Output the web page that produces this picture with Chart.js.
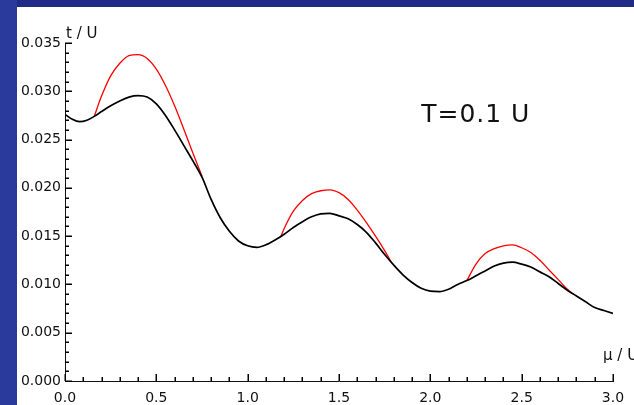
<!DOCTYPE html>
<html>
<head>
<meta charset="utf-8">
<script src="https://cdn.jsdelivr.net/npm/chart.js@4.4.1/dist/chart.umd.min.js"></script>
<style>
  html, body { margin: 0; padding: 0; }
  body { width: 634px; height: 405px; position: relative; overflow: hidden; background: #ffffff; }
  #plot { position: absolute; left: 0; top: 0; }
  .band { position: absolute; }
  #bandLeft { left: 0; top: 0; width: 17px; height: 405px; background: #2a3a9c; }
  #bandTop { left: 0; top: 0; width: 634px; height: 7px; background: #212c86; }
</style>
</head>
<body>
<canvas id="plot" width="634" height="405"></canvas>
<div class="band" id="bandTop"></div>
<div class="band" id="bandLeft"></div>
<script>
// chemical potential mu/U and hopping t/U
const muBlack = [0, 0.04, 0.08, 0.12, 0.16, 0.2, 0.25, 0.3, 0.35, 0.4, 0.45, 0.5, 0.55, 0.6, 0.65, 0.7,
  0.75, 0.8, 0.85, 0.9, 0.95, 1.0, 1.05, 1.1, 1.15, 1.2, 1.25, 1.3, 1.35, 1.4, 1.45, 1.5, 1.55, 1.6,
  1.65, 1.7, 1.75, 1.8, 1.85, 1.9, 1.95, 2.0, 2.05, 2.1, 2.15, 2.2, 2.25, 2.3, 2.35, 2.4, 2.45, 2.5,
  2.55, 2.6, 2.65, 2.7, 2.75, 2.8, 2.85, 2.9, 2.95, 3.0];
const tBlack = [0.0276, 0.0271, 0.02685, 0.0270, 0.0274, 0.0279, 0.0285, 0.0290, 0.0294, 0.02955, 0.0294,
  0.0287, 0.0275, 0.0260, 0.0244, 0.0228, 0.0211, 0.0188, 0.0169, 0.0155, 0.0145, 0.0140, 0.01384,
  0.0141, 0.0146, 0.0152, 0.0159, 0.0165, 0.0170, 0.0173, 0.01736, 0.0171, 0.0168, 0.0162, 0.0154,
  0.0143, 0.0131, 0.0120, 0.0110, 0.0102, 0.0096, 0.0093, 0.00925, 0.0095, 0.0100, 0.0104, 0.0109,
  0.0114, 0.0119, 0.0122, 0.0123, 0.0121, 0.0118, 0.0113, 0.0108, 0.0101, 0.0094, 0.0088, 0.0082,
  0.0076, 0.0073, 0.0070];

// red curve, three bumps
const muRedA = [0.16, 0.2, 0.25, 0.3, 0.35, 0.4, 0.45, 0.5, 0.55, 0.6, 0.65, 0.7, 0.75];
const tRedA = [0.0274, 0.0295, 0.0316, 0.0329, 0.0337, 0.0338, 0.0334, 0.0323, 0.0306, 0.0285, 0.0261, 0.0236, 0.0212];
const muRedB = [1.18, 1.2, 1.25, 1.3, 1.35, 1.4, 1.45, 1.5, 1.55, 1.6, 1.65, 1.7, 1.75, 1.79];
const tRedB = [0.0149, 0.0158, 0.0176, 0.0187, 0.0194, 0.0197, 0.0198, 0.0195, 0.0188, 0.0177, 0.0164, 0.0150, 0.0135, 0.0122];
const muRedC = [2.2, 2.25, 2.3, 2.35, 2.4, 2.45, 2.5, 2.55, 2.6, 2.65, 2.7, 2.75, 2.79];
const tRedC = [0.0104, 0.0121, 0.0132, 0.0137, 0.0140, 0.0141, 0.0138, 0.0133, 0.0125, 0.0115, 0.0105, 0.0095, 0.0089];

const xTicks = [0, 0.5, 1.0, 1.5, 2.0, 2.5, 3.0];
const yTicks = [0, 0.005, 0.010, 0.015, 0.020, 0.025, 0.030, 0.035];
const xMinorStep = 0.1;
const yMinorStep = 0.001;

const toPoints = (xs, ys) => xs.map((x, i) => ({ x: x, y: ys[i] }));

const lineSet = (pts, color, width) => ({
    data: pts,
    borderColor: color,
    borderWidth: width,
    pointRadius: 0,
    showLine: true,
    fill: false,
    cubicInterpolationMode: 'monotone'
});

const tickFont = { family: 'DejaVu Sans', size: 14 };

// inward major/minor ticks plus the axis names and annotation
const decorations = {
    id: 'decorations',
    afterDraw(chart) {
        const c = chart.ctx;
        const xs = chart.scales.x;
        const ys = chart.scales.y;
        const area = chart.chartArea;
        const bottom = Math.round(area.bottom);
        const left = Math.round(area.left);
        c.save();
        c.fillStyle = '#000';
        const nx = Math.round((xs.max - xs.min) / xMinorStep);
        for (let i = 0; i <= nx; i++) {
            const px = Math.round(xs.getPixelForValue(xs.min + i * xMinorStep));
            const len = i % 5 === 0 ? 7 : 4;
            c.fillRect(px - 0.5, bottom - len, 1.5, len);
        }
        const ny = Math.round((ys.max - ys.min) / yMinorStep);
        for (let i = 0; i <= ny; i++) {
            const py = Math.round(ys.getPixelForValue(ys.min + i * yMinorStep));
            const len = i % 5 === 0 ? 7 : 4;
            c.fillRect(left, py - 0.5, len, 1.5);
        }

        c.fillStyle = '#111';
        c.font = '15px "DejaVu Sans"';
        c.textBaseline = 'alphabetic';
        c.textAlign = 'left';
        c.fillText('t / U', area.left + 1, area.top - 5);
        c.fillText('μ / U', area.right - 10, area.bottom - 21);

        c.font = '25px "DejaVu Sans"';
        c.letterSpacing = '1px';
        c.textBaseline = 'middle';
        c.fillText('T=0.1 U', xs.getPixelForValue(1.95), ys.getPixelForValue(0.0275));
        c.restore();
    }
};

const chart = new Chart(document.getElementById('plot'), {
    type: 'scatter',
    data: {
        datasets: [
            lineSet(toPoints(muBlack, tBlack), '#000000', 1.7),
            lineSet(toPoints(muRedA, tRedA), '#ff0000', 1.3),
            lineSet(toPoints(muRedB, tRedB), '#ff0000', 1.3),
            lineSet(toPoints(muRedC, tRedC), '#ff0000', 1.3)
        ]
    },
    options: {
        responsive: false,
        devicePixelRatio: 1,
        animation: false,
        layout: { padding: { top: 43, right: 21, left: 0, bottom: 0 } },
        plugins: {
            legend: { display: false },
            tooltip: { enabled: false }
        },
        scales: {
            x: {
                type: 'linear',
                min: 0,
                max: 3,
                afterFit: (scale) => { scale.height = 24; },
                afterBuildTicks: (scale) => { scale.ticks = xTicks.map(v => ({ value: v })); },
                grid: { display: false, drawTicks: false },
                border: { display: true, color: '#111', width: 1 },
                ticks: {
                    color: '#111',
                    font: tickFont,
                    padding: 9,
                    maxRotation: 0,
                    callback: (v) => Number(v).toFixed(1)
                }
            },
            y: {
                type: 'linear',
                min: 0,
                max: 0.035,
                afterFit: (scale) => { scale.width = 65; },
                afterBuildTicks: (scale) => { scale.ticks = yTicks.map(v => ({ value: v })); },
                grid: { display: false, drawTicks: false },
                border: { display: true, color: '#111', width: 1 },
                ticks: {
                    color: '#111',
                    font: tickFont,
                    padding: 4,
                    callback: (v) => Number(v).toFixed(3)
                }
            }
        }
    },
    plugins: [decorations]
});
</script>
</body>
</html>
